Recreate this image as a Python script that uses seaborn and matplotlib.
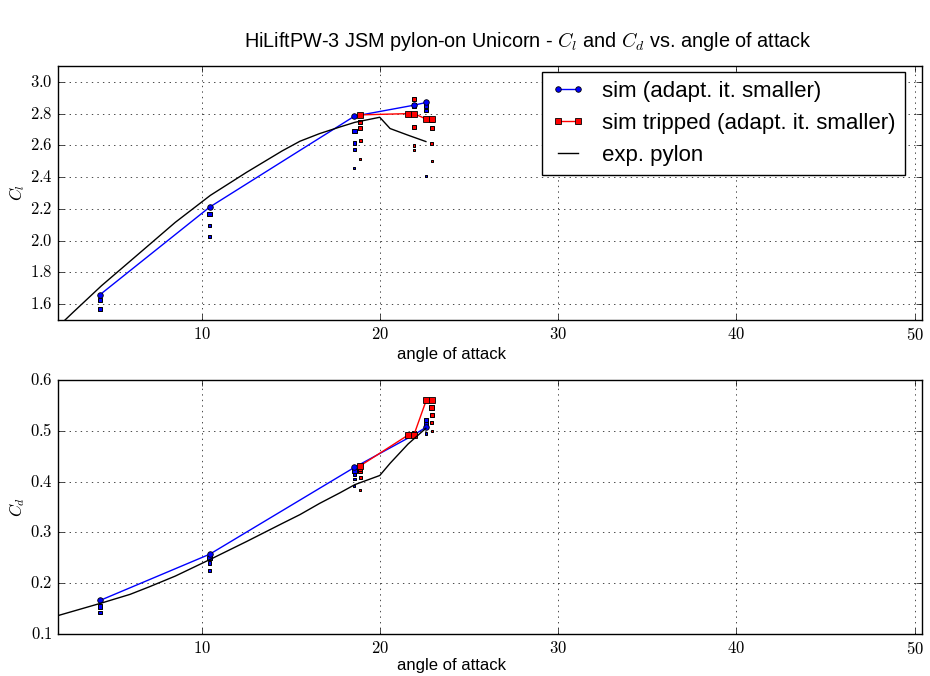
import pandas as pd
import seaborn as sns
import matplotlib
matplotlib.use('Agg')
import matplotlib.pyplot as plt
from matplotlib.ticker import MultipleLocator, FuncFormatter

# final (finest mesh) values of the adaptive runs
sim_alpha = [4.27, 10.43, 18.56, 21.9, 22.58]
sim_cl = [1.659, 2.211, 2.784, 2.853, 2.870]
sim_cd = [0.166, 0.257, 0.428, 0.492, 0.507]

trip_alpha = [18.88, 21.59, 21.9, 22.6, 22.9]
trip_cl = [2.792, 2.800, 2.800, 2.765, 2.765]
trip_cd = [0.431, 0.492, 0.492, 0.561, 0.561]

# earlier adaptation iterations, level 3 = one step before the final mesh
sim_it_alpha = [4.27, 4.27, 10.43, 10.43, 10.43, 18.56, 18.56, 18.56, 18.56, 22.58, 22.58, 22.58]
sim_it_level = [2, 3, 1, 2, 3, 0, 1, 2, 3, 1, 2, 3]
sim_it_cl = [1.570, 1.627, 2.027, 2.096, 2.167, 2.460, 2.573, 2.615, 2.691, 2.407, 2.820, 2.847]
sim_it_cd = [0.1425, 0.154, 0.225, 0.2396, 0.2494, 0.392, 0.405, 0.415, 0.4215, 0.495, 0.513, 0.521]

trip_it_alpha = [18.88, 18.88, 18.88, 18.88, 21.9, 21.9, 21.9, 21.9, 21.9, 22.9, 22.9, 22.9, 22.9]
trip_it_level = [0, 1, 2, 3, 0, 1, 2, 3, 3, 0, 1, 2, 3]
trip_it_cl = [2.514, 2.632, 2.710, 2.748, 2.569, 2.600, 2.716, 2.851, 2.891, 2.504, 2.611, 2.710, 2.760]
trip_it_cd = [0.3837, 0.4087, 0.4205, 0.4254, 0.4984, 0.4970, 0.4950, 0.4940, 0.4930, 0.4997, 0.5168, 0.5310, 0.5455]

# experiment, pylon on
exp_alpha = [1.0, 2.78, 4.36, 5.96, 7.05, 8.5, 10.47, 12.5, 14.5, 15.5, 16.6, 17.75, 18.58, 19.98, 20.56, 21.57, 22.57]
exp_cl = [1.36, 1.55, 1.716, 1.87, 1.975, 2.115, 2.285, 2.43, 2.565, 2.626, 2.674, 2.716, 2.745, 2.777, 2.706, 2.664, 2.624]
exp_cd = [0.127, 0.145, 0.161, 0.178, 0.193, 0.214, 0.247, 0.282, 0.3175, 0.335, 0.357, 0.378, 0.394, 0.412, 0.436, 0.474, 0.505]

plt.style.use('classic')
plt.rcParams['font.family'] = ['Liberation Sans', 'DejaVu Sans']
plt.rcParams['mathtext.fontset'] = 'cm'

sim_it = pd.DataFrame({'alpha': sim_it_alpha, 'level': sim_it_level, 'cl': sim_it_cl, 'cd': sim_it_cd})
trip_it = pd.DataFrame({'alpha': trip_it_alpha, 'level': trip_it_level, 'cl': trip_it_cl, 'cd': trip_it_cd})
level_sizes = {0: 2, 1: 4, 2: 7, 3: 11}

fig = plt.figure(figsize=(9.3, 6.76), dpi=100, facecolor='white')
ax1 = fig.add_axes([0.0624, 0.5266, 0.929, 0.3758])
ax2 = fig.add_axes([0.0624, 0.0621, 0.929, 0.3758])

for ax, col, sim_y, trip_y, exp_y in [(ax1, 'cl', sim_cl, trip_cl, exp_cl),
                                      (ax2, 'cd', sim_cd, trip_cd, exp_cd)]:
    ax.set_facecolor('white')
    sns.lineplot(x=sim_alpha, y=sim_y, ax=ax, color='blue', marker='o', markersize=4,
                 markeredgecolor='black', markeredgewidth=0.6, lw=1, estimator=None,
                 sort=False, label='sim (adapt. it. smaller)')
    sns.scatterplot(data=sim_it, x='alpha', y=col, size='level', sizes=level_sizes, ax=ax,
                    color='blue', marker='s', edgecolor='black', linewidth=0.7, legend=False)
    sns.lineplot(x=trip_alpha, y=trip_y, ax=ax, color='red', marker='s', markersize=4,
                 markeredgecolor='black', markeredgewidth=0.6, lw=1, estimator=None,
                 sort=False, label='sim tripped (adapt. it. smaller)')
    sns.scatterplot(data=trip_it, x='alpha', y=col, size='level', sizes=level_sizes, ax=ax,
                    color='red', marker='s', edgecolor='black', linewidth=0.7, legend=False)
    sns.lineplot(x=exp_alpha, y=exp_y, ax=ax, color='black', lw=1, estimator=None,
                 sort=False, label='exp. pylon')

    ax.set_xlim(1.92, 50.42)
    ax.xaxis.set_major_locator(MultipleLocator(10))
    ax.xaxis.set_major_formatter(FuncFormatter(lambda v, p: r'$%d$' % round(v)))
    ax.yaxis.set_major_formatter(FuncFormatter(lambda v, p: r'$%.1f$' % v))
    ax.grid(True, linestyle=':', color='black', linewidth=0.5)
    ax.set_axisbelow(True)
    ax.set_xlabel('angle of attack', fontsize=12)
    ax.yaxis.set_label_coords(-0.036, 0.5)

ax1.xaxis.set_label_coords(0.455, -0.105)
ax2.xaxis.set_label_coords(0.455, -0.095)

ax1.set_ylim(1.5, 3.1)
ax1.yaxis.set_major_locator(MultipleLocator(0.2))
ax1.set_ylabel(r'$C_l$', fontsize=12)
ax2.set_ylim(0.1, 0.6)
ax2.yaxis.set_major_locator(MultipleLocator(0.1))
ax2.set_ylabel(r'$C_d$', fontsize=12)

ax2.get_legend().remove()
ax1.legend(loc='upper right', bbox_to_anchor=(0.980, 0.976), borderaxespad=0,
           fontsize=16, numpoints=2, handlelength=1.5, fancybox=False, framealpha=1)

fig.suptitle('HiLiftPW-3 JSM pylon-on Unicorn - $C_l$ and $C_d$ vs. angle of attack',
             fontsize=14.3, x=0.568, y=0.955)

fig.savefig('out.png', dpi=100, facecolor='white')
